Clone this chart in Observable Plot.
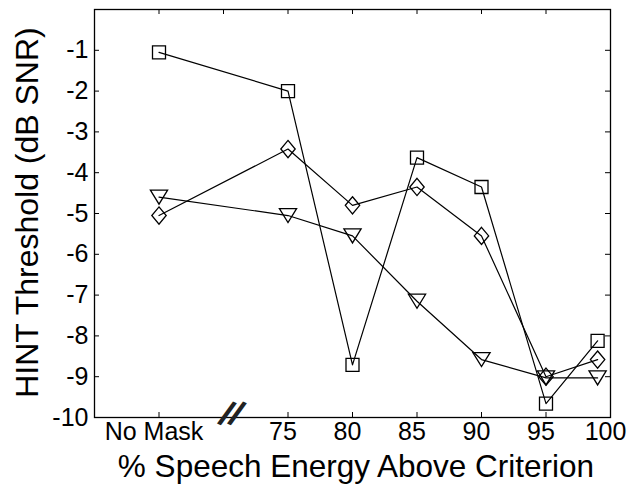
<!DOCTYPE html>
<html><head><meta charset="utf-8">
<script src="https://cdn.jsdelivr.net/npm/d3@7"></script>
<script src="https://cdn.jsdelivr.net/npm/@observablehq/plot@0.6"></script>
<style>
body{margin:0;background:#fff;}
svg{font-family:"Liberation Sans", Arial, Helvetica, sans-serif;}
</style>
</head><body><div id="chart"></div>
<script>
// ---- data ----
const xPositions = [65, 75, 80, 85, 90, 95, 99];
const squareSeries   = [-1.05, -2.0, -8.71, -3.63, -4.35, -9.66, -8.12];
const diamondSeries  = [-5.05, -3.42, -4.80, -4.35, -5.55, -9.00, -8.58];
const triangleSeries = [-4.60, -5.05, -5.55, -7.15, -8.58, -9.03, -9.03];
const xTickValues = [65, 75, 80, 85, 90, 95, 100];
const xTickLabels = ["No Mask", "75", "80", "85", "90", "95", "100"];
const xTickMarks = [65, 70, 75, 80, 85, 90, 95];
const yTickValues = [-1, -2, -3, -4, -5, -6, -7, -8, -9, -10];
const axisBreak = 70;
const xTitle = "% Speech Energy Above Criterion";
const yTitle = "HINT Threshold (dB SNR)";

const rows = (vals) => xPositions.map((x, i) => ({x, y: vals[i]}));
const squareRows = rows(squareSeries);
const diamondRows = rows(diamondSeries);
const triangleRows = rows(triangleSeries);
const labelMap = new Map(xTickValues.map((v, i) => [v, xTickLabels[i]]));

// hollow marker shapes
const squareSym = {draw(c){const h=6.5;c.moveTo(-h,-h);c.lineTo(h,-h);c.lineTo(h,h);c.lineTo(-h,h);c.closePath();}};
const diamondSym = {draw(c){c.moveTo(0,-8.6);c.lineTo(7.2,0);c.lineTo(0,8.6);c.lineTo(-7.2,0);c.closePath();}};
const triSym = {draw(c){c.moveTo(-8.6,-7);c.lineTo(8.6,-7);c.lineTo(0,7);c.closePath();}};

const lineOpts = {x: "x", y: "y", stroke: "black", strokeWidth: 1.2};
const dotOpts = {x: "x", y: "y", fill: "none", stroke: "black", strokeWidth: 1.3};

const plot = Plot.plot({
  width: 639, height: 486,
  marginLeft: 94, marginRight: 29, marginTop: 9, marginBottom: 69,
  x: {domain: [60, 100], axis: null},
  y: {domain: [-10, 0], axis: null},
  style: {background: "white", color: "black", fontFamily: "'Liberation Sans', Arial, sans-serif"},
  marks: [
    Plot.frame({stroke: "black", strokeWidth: 1.3}),
    Plot.ruleX(xTickMarks.filter(d => d !== axisBreak), {x: d => d, y1: -10, y2: -10, insetBottom: 5, stroke: "black"}),
    Plot.ruleX(xTickMarks, {x: d => d, y1: 0, y2: 0, insetTop: 5, stroke: "black"}),
    Plot.ruleY(yTickValues, {y: d => d, x1: 60, x2: 60, insetLeft: 5, stroke: "black"}),
    Plot.ruleY(yTickValues, {y: d => d, x1: 100, x2: 100, insetRight: 5, stroke: "black"}),
    Plot.line(squareRows, lineOpts),
    Plot.line(diamondRows, lineOpts),
    Plot.line(triangleRows, lineOpts),
    Plot.dot(squareRows, {...dotOpts, symbol: squareSym}),
    Plot.dot(diamondRows, {...dotOpts, symbol: diamondSym}),
    Plot.dot(triangleRows, {...dotOpts, symbol: triSym}),
    Plot.axisX(xTickValues, {anchor: "bottom", tickSize: 0, tickPadding: 5, fontSize: 25, dx: -5, tickFormat: d => labelMap.get(d), label: null}),
    Plot.axisY(yTickValues, {anchor: "left", tickSize: 0, tickPadding: 6, fontSize: 25, tickFormat: d => String(d), label: null}),
    Plot.text([axisBreak], {x: d => d, y: -10, text: () => "/", fontSize: 36, fontWeight: "bold", rotate: 25, dx: 3, dy: -3, fill: "#222"}),
    Plot.text([axisBreak], {x: d => d, y: -10, text: () => "/", fontSize: 36, fontWeight: "bold", rotate: 25, dx: 13, dy: -3, fill: "#222"}),
    Plot.text([xTitle], {text: d => d, frameAnchor: "bottom", textAnchor: "middle", lineAnchor: "top", dy: 37, dx: 3.5, fontSize: 31.5}),
    Plot.text([yTitle], {text: d => d, frameAnchor: "left", textAnchor: "middle", rotate: -90, lineAnchor: "top", dx: -79, dy: -1, fontSize: 32})
  ]
});
document.getElementById("chart").appendChild(plot);
</script>
</body></html>
